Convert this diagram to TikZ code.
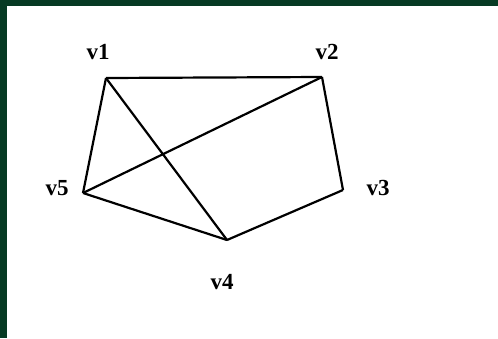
\documentclass[tikz,border=0pt]{standalone}
\usepackage{fontspec}
\setmainfont{Liberation Serif}
\begin{document}
\begin{tikzpicture}[x=1pt,y=-1pt,
  vert/.style={inner sep=0pt,minimum size=0pt},
  lbl/.style={font=\fontsize{23}{23}\selectfont\bfseries,inner sep=0pt},
  edge/.style={line width=2.2pt,black}]
\definecolor{frame}{HTML}{063A23}
\useasboundingbox (0,0) rectangle (498,338);
\fill[frame] (0,0) rectangle (498,338);
\fill[white] (7,6) rectangle (498,338);
\coordinate (v1) at (106,78);
\coordinate (v2) at (322,77);
\coordinate (v3) at (343,190);
\coordinate (v4) at (227,240);
\coordinate (v5) at (83,193);
\node[lbl] (l1) at (98,52) {v1};
\node[lbl] (l2) at (327,52) {v2};
\node[lbl] (l3) at (378,188) {v3};
\node[lbl] (l4) at (222,282) {v4};
\node[lbl] (l5) at (57,188) {v5};
\draw[edge] (v1) -- (v2);
\draw[edge] (v2) -- (v3);
\draw[edge] (v3) -- (v4);
\draw[edge] (v4) -- (v5);
\draw[edge] (v5) -- (v1);
\draw[edge] (v1) -- (v4);
\draw[edge] (v5) -- (v2);
\end{tikzpicture}
\end{document}
